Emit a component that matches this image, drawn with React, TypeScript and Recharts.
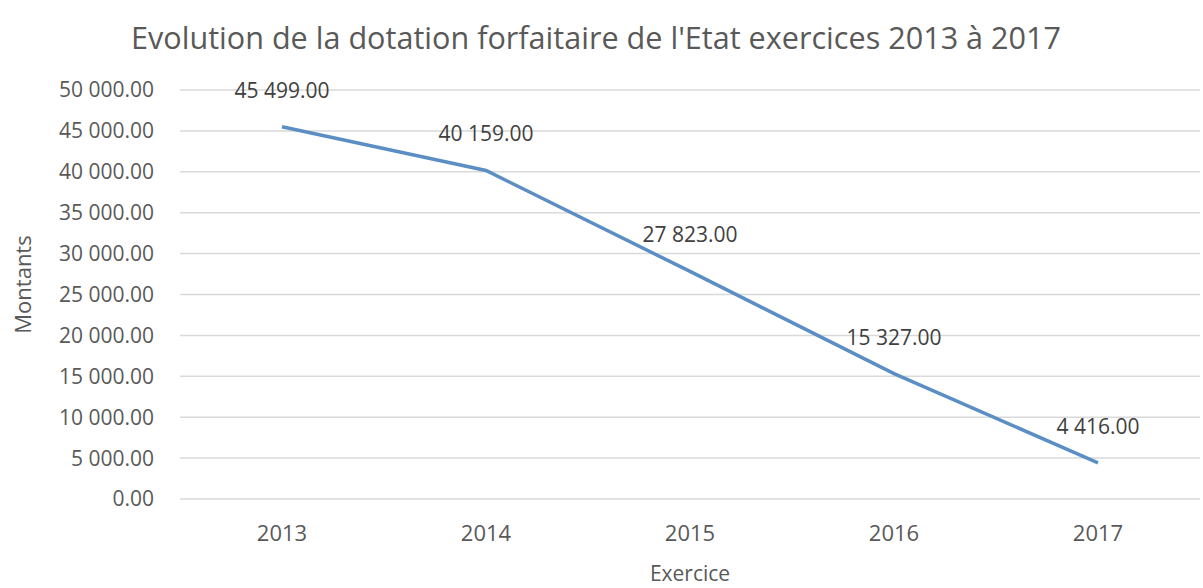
import React from "react";
import { LineChart, Line, XAxis, YAxis, CartesianGrid, LabelList, Label } from "recharts";

const years = ["2013", "2014", "2015", "2016", "2017"];
const montants = [45499, 40159, 27823, 15327, 4416];
const yTicks = [0, 5000, 10000, 15000, 20000, 25000, 30000, 35000, 40000, 45000, 50000];

const title = "Evolution de la dotation forfaitaire de l'Etat exercices 2013 à 2017";
const xTitle = "Exercice";
const yTitle = "Montants";

const data = years.map((y, i) => ({ year: y, value: montants[i] }));

const fmt = (v: number) => {
  const [int, dec] = Math.abs(v).toFixed(2).split(".");
  const grouped = int.replace(/\B(?=(\d{3})+(?!\d))/g, " ");
  return (v < 0 ? "-" : "") + grouped + "." + dec;
};

const FONT = "'Open Sans', sans-serif";

export default function App() {
  return (
    <div style={{ position: "absolute", left: 0, top: 0, width: 1203, height: 588, background: "#fff" }}>
      <svg width={1203} height={70} style={{ position: "absolute", left: 0, top: 0 }}>
        <text
          x={596}
          y={49}
          textAnchor="middle"
          fontFamily={FONT}
          fontSize={31}
          fill="#595959"
          textLength={930}
          lengthAdjust="spacingAndGlyphs"
        >
          {title}
        </text>
      </svg>
      <LineChart
        width={1203}
        height={588}
        data={data}
        margin={{ top: 90, right: 3, bottom: 0, left: 0 }}
        style={{ position: "absolute", left: 0, top: 0 }}
      >
        <CartesianGrid vertical={false} stroke="#d9d9d9" strokeWidth={1.5} />
        <XAxis
          dataKey="year"
          axisLine={false}
          tickLine={false}
          tickSize={0}
          tickMargin={26}
          padding={{ left: 102, right: 102 }}
          tick={{ fill: "#595959", fontSize: 22, fontFamily: FONT }}
          height={89}
        >
          <Label value={xTitle} position="insideBottom" offset={7} fill="#595959" fontSize={21} fontFamily={FONT} />
        </XAxis>
        <YAxis
          domain={[0, 50000]}
          ticks={yTicks}
          tickFormatter={fmt}
          axisLine={false}
          tickLine={false}
          tickSize={0}
          tickMargin={26}
          width={180}
          tick={{ fill: "#595959", fontSize: 21, fontFamily: FONT }}
        >
          <Label
            value={yTitle}
            angle={-90}
            position="insideLeft"
            offset={23}
            fill="#595959"
            fontSize={22}
            fontFamily={FONT}
            style={{ textAnchor: "middle" }}
            dy={-10}
          />
        </YAxis>
        <Line
          type="linear"
          dataKey="value"
          stroke="#5b8fc4"
          strokeWidth={3.5}
          dot={false}
          isAnimationActive={false}
        >
          <LabelList
            dataKey="value"
            position="top"
            offset={29}
            formatter={(v: number) => fmt(v)}
            fill="#404040"
            fontSize={21}
            fontFamily={FONT}
          />
        </Line>
      </LineChart>
    </div>
  );
}
